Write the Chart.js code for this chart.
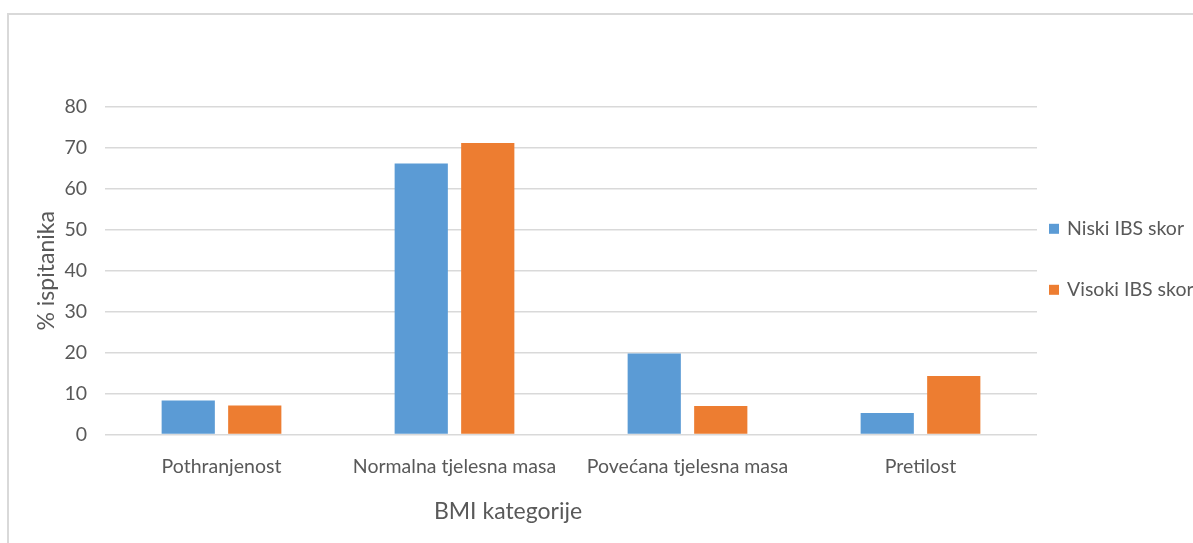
<!DOCTYPE html>
<html>
<head>
<meta charset="utf-8">
<script src="https://cdn.jsdelivr.net/npm/chart.js@4"></script>
<style>
  html, body { margin: 0; padding: 0; background: #ffffff; overflow: hidden; }
  #wrap { position: relative; width: 1193px; height: 543px; }
</style>
</head>
<body>
<div id="wrap"><canvas id="c"></canvas></div>
<script>
const categories = ["Pothranjenost", "Normalna tjelesna masa", "Povećana tjelesna masa", "Pretilost"];
const seriesNames = ["Niski IBS skor", "Visoki IBS skor"];
const niskiValues = [8.3, 66.2, 19.8, 5.3];
const visokiValues = [7.1, 71.2, 7.0, 14.3];
const yTicks = [0, 10, 20, 30, 40, 50, 60, 70, 80];
const yTitle = "% ispitanika";
const xTitle = "BMI kategorije";

const FONT = "Lato, 'Open Sans', sans-serif";
const TEXT = "#595959";
const GRID = "#d9d9d9";

const framePlugin = {
  id: "frame",
  beforeDraw(chart) {
    const ctx = chart.ctx;
    ctx.save();
    ctx.fillStyle = "#ffffff";
    ctx.fillRect(0, 0, chart.width, chart.height);
    ctx.strokeStyle = "#d9d9d9";
    ctx.lineWidth = 2;
    ctx.strokeRect(8, 14, chart.width + 20, chart.height + 20);
    ctx.restore();
  },
  afterDraw(chart) {
    const ctx = chart.ctx;
    const xs = chart.scales.x;
    const area = chart.chartArea;
    ctx.save();
    // x-axis title
    ctx.fillStyle = TEXT;
    ctx.font = "23px " + FONT;
    ctx.textAlign = "center";
    ctx.textBaseline = "middle";
    ctx.fillText(xTitle, (xs.left + xs.right) / 2 - 63, 512);
    // legend
    const mid = (area.top + area.bottom) / 2;
    const ys = [mid - 42, mid + 19];
    chart.data.datasets.forEach((ds, i) => {
      const y = ys[i];
      ctx.fillStyle = ds.backgroundColor;
      ctx.fillRect(area.right + 12, y - 5, 10, 10);
      ctx.fillStyle = TEXT;
      ctx.font = "19.5px " + FONT;
      ctx.textAlign = "left";
      ctx.fillText(ds.label, area.right + 30, y);
    });
    ctx.restore();
  }
};

new Chart(document.getElementById("c"), {
  type: "bar",
  data: {
    labels: categories,
    datasets: [
      { label: seriesNames[0], data: niskiValues, backgroundColor: "#5B9BD5", borderWidth: 0 },
      { label: seriesNames[1], data: visokiValues, backgroundColor: "#ED7D31", borderWidth: 0 }
    ]
  },
  options: {
    responsive: true,
    maintainAspectRatio: false,
    animation: false,
    devicePixelRatio: 1,
    layout: { padding: { left: 33, right: 156, top: 107, bottom: 45 } },
    datasets: { bar: { categoryPercentage: 0.571, barPercentage: 0.8 } },
    plugins: {
      legend: { display: false },
      tooltip: { enabled: false }
    },
    scales: {
      x: {
        grid: { display: false, drawTicks: false },
        border: { display: false },
        ticks: { color: TEXT, font: { family: FONT, size: 19.5 }, padding: 20, maxRotation: 0 }
      },
      y: {
        min: 0, max: 80,
        afterBuildTicks(scale) { scale.ticks = yTicks.map(v => ({ value: v })); },
        afterFit(scale) { scale.width = 72; },
        grid: { color: GRID, lineWidth: 1.5, drawTicks: false },
        border: { display: false },
        ticks: { color: TEXT, font: { family: FONT, size: 19.5 }, padding: 18 },
        title: { display: true, text: yTitle, color: TEXT, font: { family: FONT, size: 23 }, padding: { top: 0, bottom: 0 } }
      }
    }
  },
  plugins: [framePlugin]
});
</script>
</body>
</html>
